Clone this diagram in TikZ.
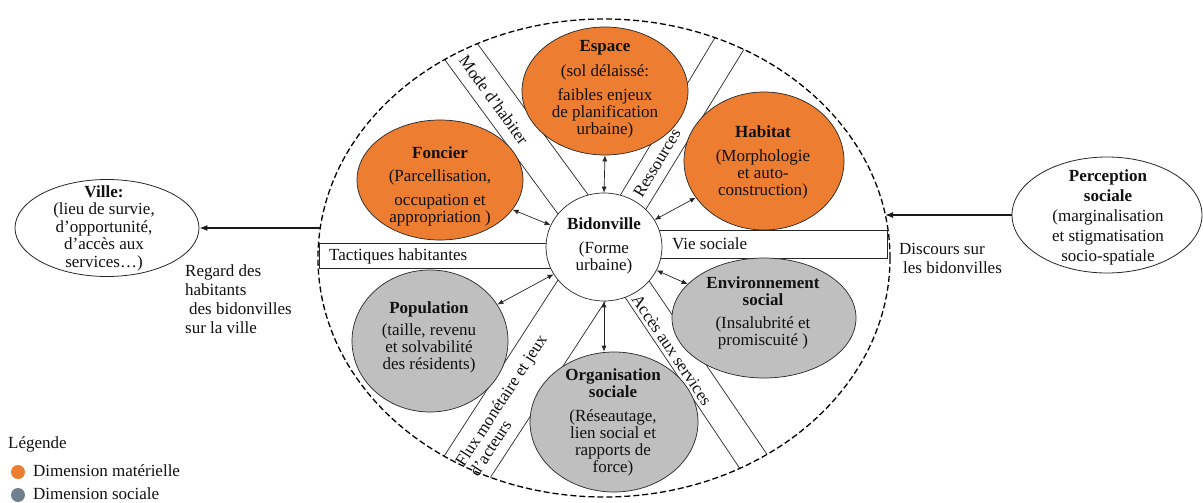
\documentclass[tikz,border=0pt]{standalone}
\usepackage{fontspec}
\setmainfont{Liberation Serif}
\usetikzlibrary{shapes.geometric,arrows.meta}
\definecolor{orng}{HTML}{ED7D31}
\definecolor{gry}{HTML}{BFBFBF}
\definecolor{slate}{HTML}{70808F}
\definecolor{txt}{HTML}{111111}
\begin{document}
\begin{tikzpicture}[x=1pt,y=-1pt,
  every node/.style={font=\fontsize{17}{17}\selectfont, text=txt},
  dimo/.style={ellipse, draw=black!85, line width=0.7pt, fill=orng, inner sep=0pt},
  dims/.style={ellipse, draw=black!85, line width=0.7pt, fill=gry, inner sep=0pt},
  plain/.style={ellipse, draw=black!85, line width=0.8pt, fill=white, inner sep=0pt},
  lbl/.style={align=center, inner sep=0pt},
  band/.style={draw=black!85, line width=0.7pt},
  boxst/.style={draw=black!85, line width=0.7pt, fill=white, inner sep=0pt},
  dbl/.style={{Latex[length=6pt,width=5pt]}-{Latex[length=6pt,width=5pt]}, line width=0.7pt, draw=black!85},
  bigarr/.style={-{Latex[length=8pt,width=6pt]}, line width=1.4pt, draw=black!90},
]
\useasboundingbox (0,0) rectangle (1203,503);
\fill[white] (0,0) rectangle (1203,503);

% bands
\begin{scope}
\clip (604,258) ellipse [x radius=286pt, y radius=239pt];
\draw[band] (420,26) -- (580,244);
\draw[band] (452,9) -- (611,226);
\draw[band] (734,6) -- (603,224);
\draw[band] (765,15) -- (627,240);
\draw[band] (417,498) -- (580,246);
\draw[band] (462,521) -- (625,271);
\draw[band] (767,509) -- (598,257);
\draw[band] (794,494) -- (626,247);
\end{scope}

% big dashed ellipse
\node[ellipse, draw=black, dash pattern=on 6pt off 3pt, line width=1.3pt, minimum width=572pt, minimum height=478pt, inner sep=0pt] (big) at (604,258) {};

% horizontal boxes
\node[boxst, minimum width=290pt, minimum height=25pt, anchor=west] (tac) at (319,255.5) {};
\node[anchor=west, inner sep=0pt] (tacl) at (329,256) {Tactiques habitantes};
\node[boxst, minimum width=290pt, minimum height=28pt, anchor=east] (vie) at (888,244) {};
\node[anchor=west, inner sep=0pt] (viel) at (672,244) {Vie sociale};

% dimension ellipses
\node[dimo, minimum width=166pt, minimum height=128pt] (esp) at (605,91) {};
\node[lbl] (espl) at (605,89) {\textbf{Espace}\\[8pt](sol délaissé:\\[7pt]faibles enjeux\\de planification\\urbaine)};
\node[dimo, minimum width=166pt, minimum height=120pt] (fon) at (440,180) {};
\node[lbl] (fonl) at (440,186) {\textbf{Foncier}\\[6pt](Parcellisation,\\[7pt]occupation et\\appropriation )};
\node[dimo, minimum width=160pt, minimum height=138pt] (hab) at (764,161) {};
\node[lbl] (habl) at (763,162) {\textbf{Habitat}\\[7pt](Morphologie\\et auto-\\construction)};
\node[dims, minimum width=184pt, minimum height=120pt] (env) at (764,318) {};
\node[lbl] (envl) at (763,313) {\textbf{Environnement}\\\textbf{social}\\[6pt](Insalubrité et\\promiscuité )};
\node[dims, minimum width=156pt, minimum height=142pt] (pop) at (430,341) {};
\node[lbl] (popl) at (429,337) {\textbf{Population}\\[5pt](taille, revenu\\et solvabilité\\des résidents)};
\node[dims, minimum width=168pt, minimum height=140pt] (org) at (614,422) {};
\node[lbl] (orgl) at (613,422) {\textbf{Organisation}\\\textbf{sociale}\\[7pt](Réseautage,\\lien social et\\rapports de\\force)};

% centre
\node[plain, line width=0.7pt, minimum width=116pt, minimum height=108pt] (bid) at (604,247) {};
\node[lbl] (bidl) at (604,246) {\textbf{Bidonville}\\[7pt](Forme\\urbaine)};

% band labels
\node[lbl, rotate=-54] (model) at (494,100) {Mode d’habiter};
\node[lbl, rotate=59] (ressl) at (657,163) {Ressources};
\node[align=left, inner sep=0pt, rotate=57] (fluxl) at (508,405) {Flux monétaire et jeux\\d’acteurs};
\node[lbl, rotate=-56] (accl) at (672,350) {Accès aux services};

% arrows to centre
\draw[dbl] (esp.south) -- (bid.north);
\draw[dbl] (fon) -- (bid);
\draw[dbl] (hab) -- (bid);
\draw[dbl] (env) -- (bid);
\draw[dbl] (pop) -- (bid);
\draw[dbl] (bid.south) -- (bid.south |- org.north);

% Ville
\node[plain, minimum width=184pt, minimum height=97pt] (ville) at (107,228) {};
\node[lbl, font=\fontsize{17}{17.5}\selectfont] (villel) at (104,228) {\textbf{Ville:}\\(lieu de survie,\\d’opportunité,\\d’accès aux\\services…)};
\coordinate (bl) at (320,228);
\draw[bigarr] (bl) -- (ville);
\node[align=left, anchor=north west, inner sep=0pt, font=\fontsize{17}{19}\selectfont] (regard) at (185,265) {Regard des\\habitants\\\hspace*{4pt}des bidonvilles\\sur la ville};

% Perception
\node[plain, minimum width=190pt, minimum height=116pt] (perc) at (1107,215) {};
\node[lbl, font=\fontsize{17}{20}\selectfont] (percl) at (1108,217) {\textbf{Perception}\\\textbf{sociale}\\(marginalisation\\et stigmatisation\\socio-spatiale};
\coordinate (br) at (885,215);
\draw[bigarr] (perc) -- (br);
\node[align=left, anchor=north west, inner sep=0pt, font=\fontsize{17}{19}\selectfont] (disc) at (899,243) {Discours sur\\\hspace*{4pt}les bidonvilles};

% legend
\node[anchor=base west, inner sep=0pt] (leg) at (8,448) {Légende};
\node[circle, fill=orng, minimum size=14pt, inner sep=0pt] (ldot1) at (18,472) {};
\node[anchor=base west, inner sep=0pt] (leg1) at (33,476) {Dimension matérielle};
\node[circle, fill=slate, minimum size=14pt, inner sep=0pt] (ldot2) at (18,495) {};
\node[anchor=base west, inner sep=0pt] (leg2) at (33,499) {Dimension sociale};
\end{tikzpicture}
\end{document}
